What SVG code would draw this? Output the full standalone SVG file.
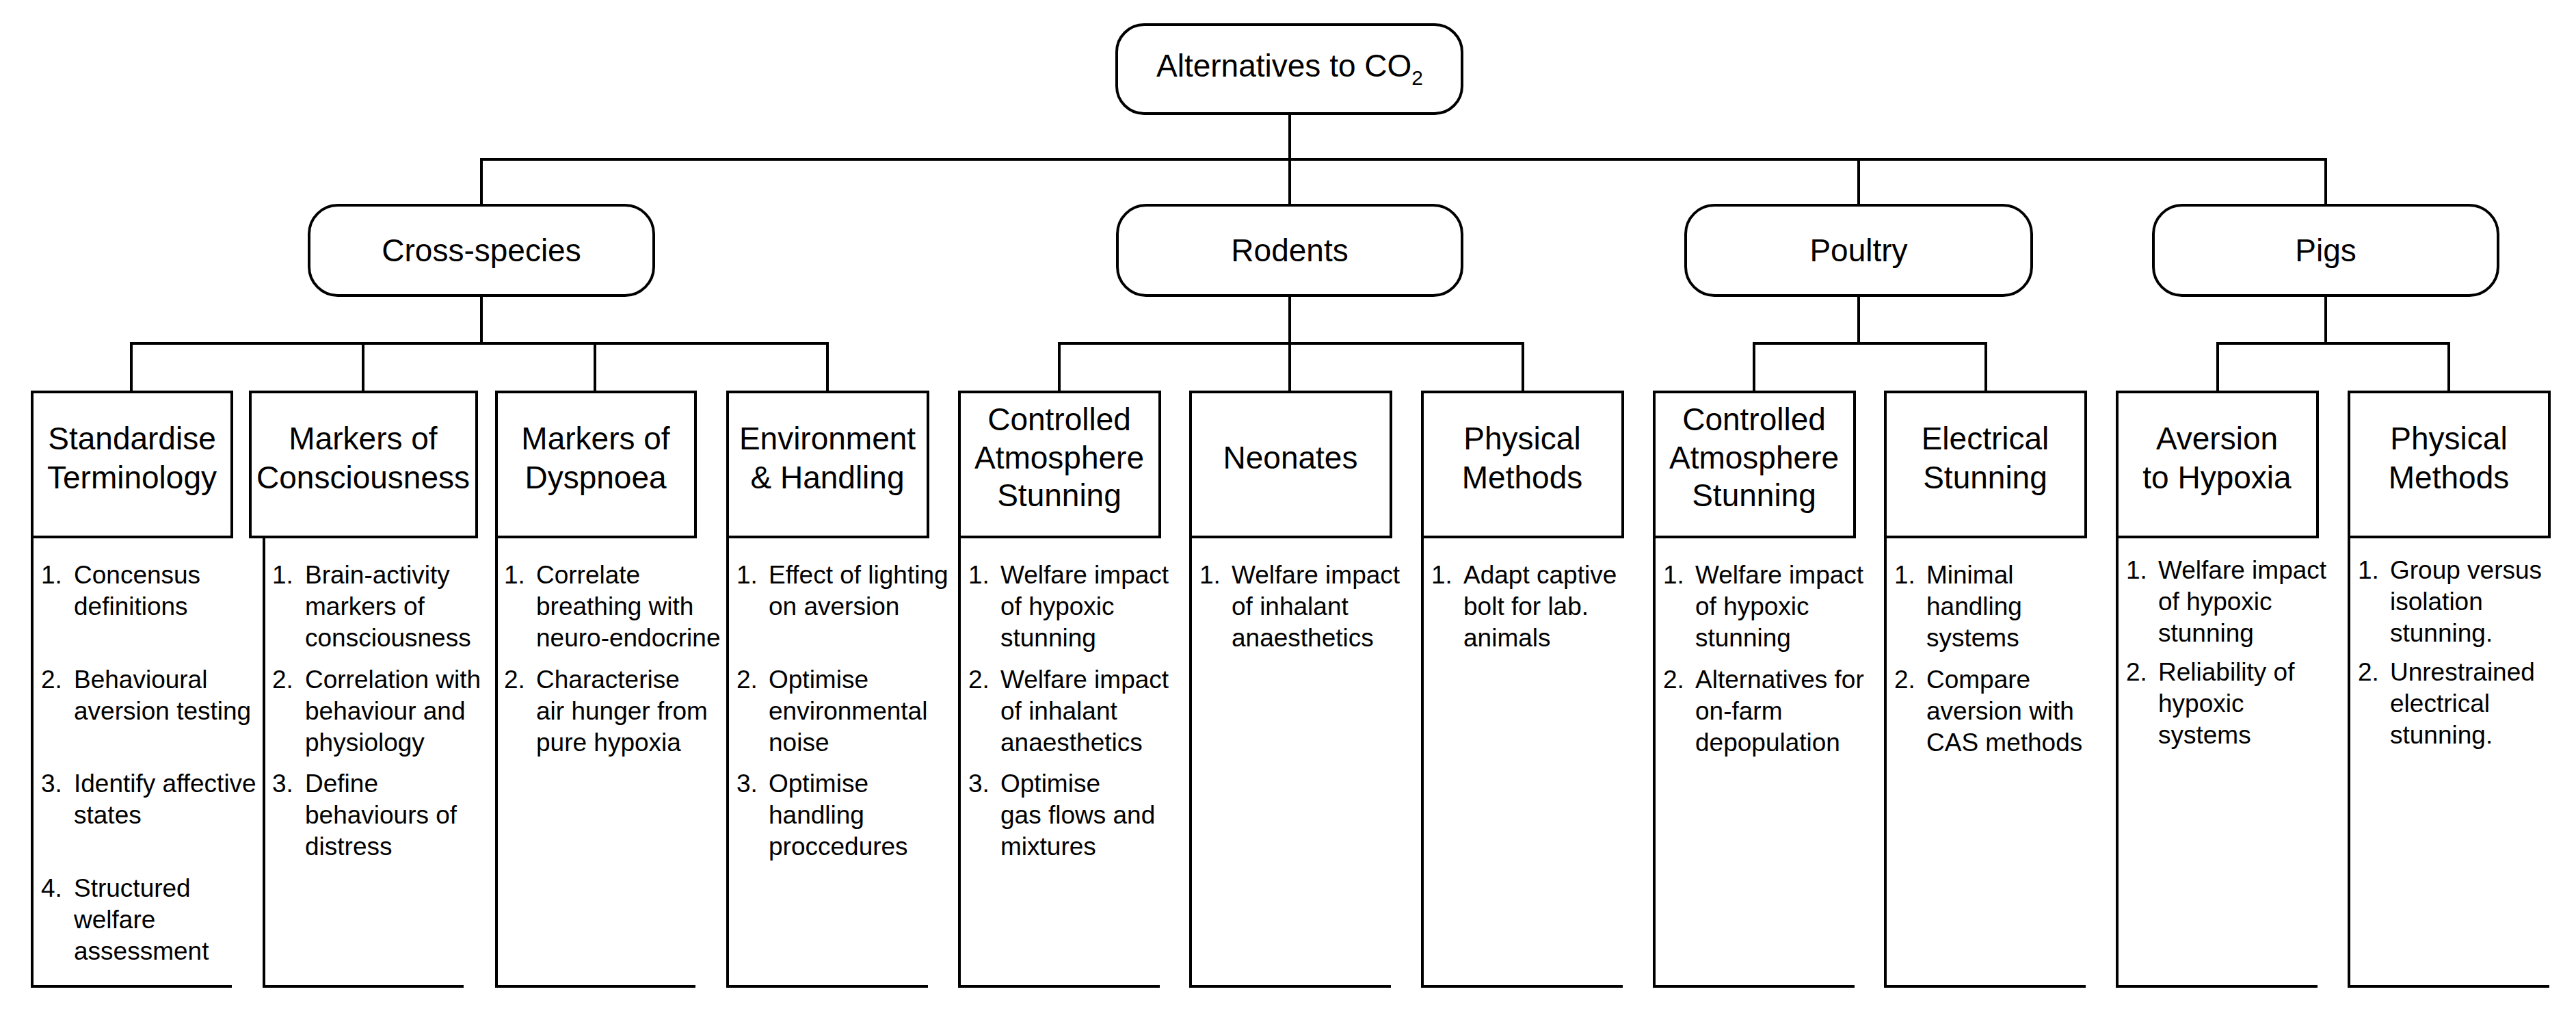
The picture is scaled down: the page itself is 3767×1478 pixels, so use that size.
<svg xmlns="http://www.w3.org/2000/svg" width="3767" height="1478" viewBox="0 0 3767 1478">
<style>
.b{fill:#fff;stroke:#000;stroke-width:4}
.l{fill:none;stroke:#000;stroke-width:4}
.h{font-family:"Liberation Sans",Arial,sans-serif;font-size:46px;text-anchor:middle;fill:#000}
.t{font-family:"Liberation Sans",Arial,sans-serif;font-size:37px;fill:#000}
</style>
<rect width="3767" height="1478" fill="#fff"/>
<g id="connectors" class="l">
<path d="M1886 166V233M704 300V233H3401V300M1886 233V300M2718 233V300"/>
<path d="M704 432V502M192 572V502H1210V572M531 502V572M870 502V572"/>
<path d="M1886 432V572M1549 572V502H2227V572"/>
<path d="M2718 432V502M2565 572V502H2904V572"/>
<path d="M3401 432V502M3243 572V502H3581V572"/>
</g>
<g id="root"><rect class="b" x="1633" y="36" width="505" height="130" rx="40"/><text class="h" x="1886" y="112">Alternatives to CO<tspan font-size="30" dy="12">2</tspan></text></g>
<g id="cross"><rect class="b" x="452" y="300" width="504" height="132" rx="42"/><text class="h" x="704" y="382">Cross-species</text></g>
<g id="rodents"><rect class="b" x="1634" y="300" width="504" height="132" rx="42"/><text class="h" x="1886" y="382">Rodents</text></g>
<g id="poultry"><rect class="b" x="2465" y="300" width="506" height="132" rx="42"/><text class="h" x="2718" y="382">Poultry</text></g>
<g id="pigs"><rect class="b" x="3149" y="300" width="504" height="132" rx="42"/><text class="h" x="3401" y="382">Pigs</text></g>

<g id="c1"><rect class="b" x="47" y="573" width="292" height="212"/><text class="h" x="193" y="657">Standardise</text><text class="h" x="193" y="714">Terminology</text>
<path class="l" d="M47 785V1442H339"/>
<text class="t" x="60" y="853">1.</text><text class="t" x="108" y="853">Concensus</text><text class="t" x="108" y="899">definitions</text>
<text class="t" x="60" y="1006">2.</text><text class="t" x="108" y="1006">Behavioural</text><text class="t" x="108" y="1052">aversion testing</text>
<text class="t" x="60" y="1158">3.</text><text class="t" x="108" y="1158">Identify affective</text><text class="t" x="108" y="1204">states</text>
<text class="t" x="60" y="1311">4.</text><text class="t" x="108" y="1311">Structured</text><text class="t" x="108" y="1357">welfare</text><text class="t" x="108" y="1403">assessment</text></g>

<g id="c2"><rect class="b" x="366" y="573" width="331" height="212"/><text class="h" x="531" y="657">Markers of</text><text class="h" x="531" y="714">Consciousness</text>
<path class="l" d="M386 785V1442H678"/>
<text class="t" x="398" y="853">1.</text><text class="t" x="446" y="853">Brain-activity</text><text class="t" x="446" y="899">markers of</text><text class="t" x="446" y="945">consciousness</text>
<text class="t" x="398" y="1006">2.</text><text class="t" x="446" y="1006">Correlation with</text><text class="t" x="446" y="1052">behaviour and</text><text class="t" x="446" y="1098">physiology</text>
<text class="t" x="398" y="1158">3.</text><text class="t" x="446" y="1158">Define</text><text class="t" x="446" y="1204">behaviours of</text><text class="t" x="446" y="1250">distress</text></g>

<g id="c3"><rect class="b" x="726" y="573" width="291" height="212"/><text class="h" x="871" y="657">Markers of</text><text class="h" x="871" y="714">Dyspnoea</text>
<path class="l" d="M726 785V1442H1017"/>
<text class="t" x="737" y="853">1.</text><text class="t" x="784" y="853">Correlate</text><text class="t" x="784" y="899">breathing with</text><text class="t" x="784" y="945">neuro-endocrine</text>
<text class="t" x="737" y="1006">2.</text><text class="t" x="784" y="1006">Characterise</text><text class="t" x="784" y="1052">air hunger from</text><text class="t" x="784" y="1098">pure hypoxia</text></g>

<g id="c4"><rect class="b" x="1064" y="573" width="293" height="212"/><text class="h" x="1210" y="657">Environment</text><text class="h" x="1210" y="714">&amp; Handling</text>
<path class="l" d="M1064 785V1442H1357"/>
<text class="t" x="1077" y="853">1.</text><text class="t" x="1124" y="853">Effect of lighting</text><text class="t" x="1124" y="899">on aversion</text>
<text class="t" x="1077" y="1006">2.</text><text class="t" x="1124" y="1006">Optimise</text><text class="t" x="1124" y="1052">environmental</text><text class="t" x="1124" y="1098">noise</text>
<text class="t" x="1077" y="1158">3.</text><text class="t" x="1124" y="1158">Optimise</text><text class="t" x="1124" y="1204">handling</text><text class="t" x="1124" y="1250">proccedures</text></g>

<g id="c5"><rect class="b" x="1403" y="573" width="293" height="212"/><text class="h" x="1549" y="629">Controlled</text><text class="h" x="1549" y="685">Atmosphere</text><text class="h" x="1549" y="740">Stunning</text>
<path class="l" d="M1403 785V1442H1696"/>
<text class="t" x="1416" y="853">1.</text><text class="t" x="1463" y="853">Welfare impact</text><text class="t" x="1463" y="899">of hypoxic</text><text class="t" x="1463" y="945">stunning</text>
<text class="t" x="1416" y="1006">2.</text><text class="t" x="1463" y="1006">Welfare impact</text><text class="t" x="1463" y="1052">of inhalant</text><text class="t" x="1463" y="1098">anaesthetics</text>
<text class="t" x="1416" y="1158">3.</text><text class="t" x="1463" y="1158">Optimise</text><text class="t" x="1463" y="1204">gas flows and</text><text class="t" x="1463" y="1250">mixtures</text></g>

<g id="c6"><rect class="b" x="1741" y="573" width="293" height="212"/><text class="h" x="1887" y="685">Neonates</text>
<path class="l" d="M1741 785V1442H2034"/>
<text class="t" x="1754" y="853">1.</text><text class="t" x="1801" y="853">Welfare impact</text><text class="t" x="1801" y="899">of inhalant</text><text class="t" x="1801" y="945">anaesthetics</text></g>

<g id="c7"><rect class="b" x="2080" y="573" width="293" height="212"/><text class="h" x="2226" y="657">Physical</text><text class="h" x="2226" y="714">Methods</text>
<path class="l" d="M2080 785V1442H2373"/>
<text class="t" x="2093" y="853">1.</text><text class="t" x="2140" y="853">Adapt captive</text><text class="t" x="2140" y="899">bolt for lab.</text><text class="t" x="2140" y="945">animals</text></g>

<g id="c8"><rect class="b" x="2419" y="573" width="293" height="212"/><text class="h" x="2565" y="629">Controlled</text><text class="h" x="2565" y="685">Atmosphere</text><text class="h" x="2565" y="740">Stunning</text>
<path class="l" d="M2419 785V1442H2712"/>
<text class="t" x="2432" y="853">1.</text><text class="t" x="2479" y="853">Welfare impact</text><text class="t" x="2479" y="899">of hypoxic</text><text class="t" x="2479" y="945">stunning</text>
<text class="t" x="2432" y="1006">2.</text><text class="t" x="2479" y="1006">Alternatives for</text><text class="t" x="2479" y="1052">on-farm</text><text class="t" x="2479" y="1098">depopulation</text></g>

<g id="c9"><rect class="b" x="2757" y="573" width="293" height="212"/><text class="h" x="2903" y="657">Electrical</text><text class="h" x="2903" y="714">Stunning</text>
<path class="l" d="M2757 785V1442H3050"/>
<text class="t" x="2770" y="853">1.</text><text class="t" x="2817" y="853">Minimal</text><text class="t" x="2817" y="899">handling</text><text class="t" x="2817" y="945">systems</text>
<text class="t" x="2770" y="1006">2.</text><text class="t" x="2817" y="1006">Compare</text><text class="t" x="2817" y="1052">aversion with</text><text class="t" x="2817" y="1098">CAS methods</text></g>

<g id="c10"><rect class="b" x="3096" y="573" width="293" height="212"/><text class="h" x="3242" y="657">Aversion</text><text class="h" x="3242" y="714">to Hypoxia</text>
<path class="l" d="M3096 785V1442H3389"/>
<text class="t" x="3109" y="846">1.</text><text class="t" x="3156" y="846">Welfare impact</text><text class="t" x="3156" y="892">of hypoxic</text><text class="t" x="3156" y="938">stunning</text>
<text class="t" x="3109" y="995">2.</text><text class="t" x="3156" y="995">Reliability of</text><text class="t" x="3156" y="1041">hypoxic</text><text class="t" x="3156" y="1087">systems</text></g>

<g id="c11"><rect class="b" x="3435" y="573" width="293" height="212"/><text class="h" x="3581" y="657">Physical</text><text class="h" x="3581" y="714">Methods</text>
<path class="l" d="M3435 785V1442H3728"/>
<text class="t" x="3448" y="846">1.</text><text class="t" x="3495" y="846">Group versus</text><text class="t" x="3495" y="892">isolation</text><text class="t" x="3495" y="938">stunning.</text>
<text class="t" x="3448" y="995">2.</text><text class="t" x="3495" y="995">Unrestrained</text><text class="t" x="3495" y="1041">electrical</text><text class="t" x="3495" y="1087">stunning.</text></g>
</svg>
